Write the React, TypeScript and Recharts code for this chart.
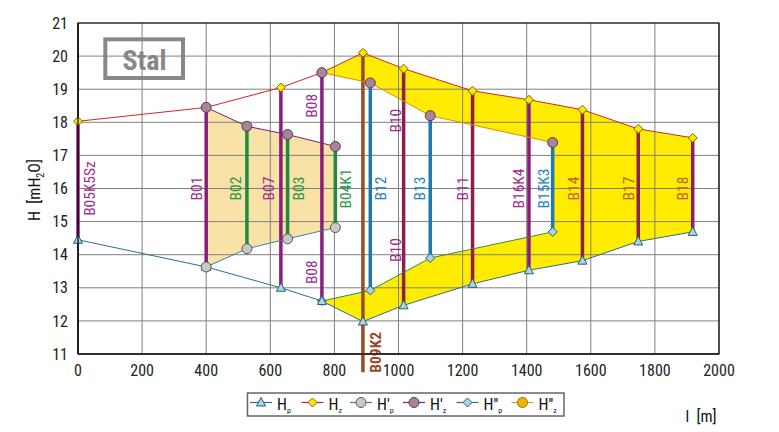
import React from 'react';
import {
  ComposedChart,
  XAxis,
  YAxis,
  CartesianGrid,
  Scatter,
  ReferenceLine,
  ReferenceArea,
  Customized,
} from 'recharts';

// ---------- DATA ----------
// main line nodes
const nodeX = [0, 400, 633, 761, 889, 1016, 1231, 1407, 1574, 1748, 1918];
const Hp = [14.45, 13.63, 13.0, 12.6, 11.98, 12.47, 13.12, 13.53, 13.82, 14.4, 14.69];
const Hz = [18.03, 18.45, 19.05, 19.5, 20.1, 19.62, 18.95, 18.68, 18.38, 17.8, 17.53];
// branch 1 (H'p, H'z)
const branch1X = [400, 527, 654, 803];
const Hp1 = [13.63, 14.18, 14.48, 14.82];
const Hz1 = [18.45, 17.88, 17.63, 17.27];
// branch 2 (H''p, H''z)
const branch2X = [761, 912, 1099, 1481];
const Hp2 = [12.6, 12.92, 13.9, 14.69];
const Hz2 = [19.5, 19.19, 18.2, 17.39];
// pipes (vertical bars)
const pipeNames = ['B05K5Sz', 'B01', 'B02', 'B07', 'B03', 'B08', 'B04K1', 'B09K2', 'B12', 'B10', 'B13', 'B11', 'B16K4', 'B15K3', 'B14', 'B17', 'B18'];
const pipeX = [0, 400, 527, 633, 654, 761, 803, 889, 912, 1016, 1099, 1231, 1407, 1481, 1574, 1748, 1918];
const pipeLow = [14.45, 13.63, 14.18, 13.0, 14.48, 12.6, 14.82, 10.45, 12.92, 12.47, 13.9, 13.12, 13.53, 14.69, 13.82, 14.4, 14.69];
const pipeHigh = [18.03, 18.45, 17.88, 19.05, 17.63, 19.5, 17.27, 20.1, 19.19, 19.62, 18.2, 18.95, 18.68, 17.39, 18.38, 17.8, 17.53];
const labelAt = [16.0, 16.0, 16.0, 16.0, 16.0, 18.5, 16.0, 11.05, 16.0, 18.05, 16.0, 16.0, 16.0, 16.0, 16.0, 16.0, 16.0];
const extraLabelNames = ['B08', 'B10'];
const extraLabelX = [761, 1016];
const extraLabelAt = [13.47, 14.14];
// axes
const xTicks = [0, 200, 400, 600, 800, 1000, 1200, 1400, 1600, 1800, 2000];
const yTicks = [11, 12, 13, 14, 15, 16, 17, 18, 19, 20, 21];
// legend
const legendMain = ['H', 'H', "H'", "H'", "H''", "H''"];
const legendSub = ['p', 'z', 'p', 'z', 'p', 'z'];

// ---------- STYLES ----------
const FONT = '"Liberation Sans Narrow", "Roboto Condensed", "DejaVu Sans Condensed", "Liberation Sans", Arial, sans-serif';
const PURPLE = '#8a1f7a';
const MAROON = '#8b1f4e';
const GREEN = '#1e8c3c';
const BLUE = '#1f78ae';
const BROWN = '#9b4a26';
const pipeStyle: Record<string, { line: string; text: string; dx: number; bold?: boolean }> = {
  B05K5Sz: { line: PURPLE, text: '#a0288f', dx: 12 },
  B01: { line: PURPLE, text: '#a0288f', dx: -9 },
  B02: { line: GREEN, text: '#23963f', dx: -10.5 },
  B07: { line: PURPLE, text: '#a0288f', dx: -11.5 },
  B03: { line: GREEN, text: '#23963f', dx: 11.5 },
  B08: { line: PURPLE, text: '#a0288f', dx: -9.7 },
  B04K1: { line: GREEN, text: '#23963f', dx: 10.5 },
  B09K2: { line: BROWN, text: BROWN, dx: 13, bold: true },
  B12: { line: BLUE, text: '#2080c0', dx: 11 },
  B10: { line: MAROON, text: '#a0288f', dx: -8 },
  B13: { line: BLUE, text: '#2080c0', dx: -10.5 },
  B11: { line: MAROON, text: '#a0288f', dx: -10 },
  B16K4: { line: PURPLE, text: '#a0288f', dx: -10 },
  B15K3: { line: BLUE, text: '#2080c0', dx: -9 },
  B14: { line: MAROON, text: '#c0601c', dx: -8.5 },
  B17: { line: MAROON, text: '#c0601c', dx: -9.5 },
  B18: { line: '#8b1f6a', text: '#c0601c', dx: -10 },
};
const legendLineX = [250, 301.5, 350, 403, 456.5, 511.5];
const legendColors = ['#2c6e8a', '#c02040', '#2c8aa0', '#802070', '#2e7d4a', '#e09a20'];

// ---------- derived series ----------
const pts = (xs: number[], ys: number[]) => xs.map((x, i) => ({ x, y: ys[i] }));
const hpData = pts(nodeX, Hp);
const hzData = pts(nodeX, Hz);
const hp1Data = pts(branch1X, Hp1);
const hz1Data = pts(branch1X, Hz1);
const hp2Data = pts(branch2X, Hp2);
const hz2Data = pts(branch2X, Hz2);
const tanPoly = [...hz1Data, ...hp1Data.slice().reverse()];
const yellowPoly = [
  ...hzData.slice(3),
  ...hpData.slice(3).reverse(),
  ...hp2Data.slice(1),
  ...hz2Data.slice().reverse(),
];
const labelData = [
  ...pipeNames.map((name, i) => ({ x: pipeX[i], y: labelAt[i], name })),
  ...extraLabelNames.map((name, i) => ({ x: extraLabelX[i], y: extraLabelAt[i], name })),
];

// ---------- markers ----------
const Triangle = (p: any) => (
  <polygon points={`${p.cx},${p.cy - 5} ${p.cx - 4.5},${p.cy + 3.5} ${p.cx + 4.5},${p.cy + 3.5}`} fill="#a9d6e5" stroke="#2a5f78" strokeWidth={1} />
);
const Diamond = (fill: string, stroke: string) => (p: any) => (
  <polygon points={`${p.cx},${p.cy - 4.5} ${p.cx + 4.5},${p.cy} ${p.cx},${p.cy + 4.5} ${p.cx - 4.5},${p.cy}`} fill={fill} stroke={stroke} strokeWidth={1} />
);
const Circle = (fill: string, stroke: string) => (p: any) => (
  <circle cx={p.cx} cy={p.cy} r={5} fill={fill} stroke={stroke} strokeWidth={1} />
);
const Nothing = () => <g />;
const PipeLabel = (p: any) => {
  const st = pipeStyle[p.payload.name];
  return (
    <text
      transform={`translate(${p.cx + st.dx},${p.cy}) rotate(-90)`}
      textAnchor="middle"
      dominantBaseline="central"
      fontSize={15.5}
      fontFamily={FONT}
      fontWeight={st.bold ? 'bold' : 'normal'}
      fill={st.text}
    >
      {p.payload.name}
    </text>
  );
};

const legendMarker = (i: number, cx: number, cy: number) => {
  if (i === 0) return Triangle({ cx, cy });
  if (i === 1) return Diamond('#ffe600', '#7a6a00')({ cx, cy });
  if (i === 2) return Circle('#c8c8c8', '#555')({ cx, cy });
  if (i === 3) return Circle('#a88499', '#5a3a50')({ cx, cy });
  if (i === 4) return Diamond('#a9d6e5', '#2a5f78')({ cx, cy });
  return Circle('#f0b400', '#a07000')({ cx, cy });
};

const Decorations = () => (
  <g>
    {/* Stal box */}
    <rect x={105.3} y={39.3} width={77.7} height={38.7} fill="#fff" stroke="#888" strokeWidth={4} />
    <text x={144.5} y={70} textAnchor="middle" fontFamily={FONT} fontWeight="bold" fontSize={28} fill="#888">Stal</text>
    {/* axis titles */}
    <text transform="translate(40,190) rotate(-90)" textAnchor="middle" fontFamily={FONT} fontSize={16} fill="#111" style={{ whiteSpace: 'pre' }}>
      {'H  [mH'}<tspan fontSize={10} dy={4}>2</tspan><tspan dy={-4}>O]</tspan>
    </text>
    <text x={701} y={422} textAnchor="middle" fontFamily={FONT} fontSize={16} fill="#111" style={{ whiteSpace: 'pre' }}>{'l  [m]'}</text>
    {/* legend */}
    <rect x={247.5} y={393} width={316.5} height={23} fill="#fff" stroke="#666" strokeWidth={1.5} />
    {legendMain.map((m, i) => {
      const x0 = legendLineX[i];
      return (
        <g key={i}>
          <line x1={x0} x2={x0 + 22} y1={402.5} y2={402.5} stroke={legendColors[i]} strokeWidth={1.2} />
          {legendMarker(i, x0 + 11, 402.5)}
          <text x={x0 + 27} y={410} fontFamily={FONT} fontSize={16} fill="#111">
            {m}
            <tspan fontSize={8} dy={3}>{legendSub[i]}</tspan>
          </text>
        </g>
      );
    })}
  </g>
);

export default function App() {
  return (
    <div style={{ position: 'absolute', left: 0, top: 0, width: 779, height: 432, background: '#fff' }}>
      <ComposedChart width={779} height={432} margin={{ top: 23, right: 60, bottom: 48, left: 18 }}>
        <XAxis
          type="number"
          dataKey="x"
          domain={[0, 2000]}
          ticks={xTicks}
          tickLine={false}
          tickMargin={5}
          height={30}
          axisLine={{ stroke: '#000', strokeWidth: 1.2 }}
          tick={{ fontSize: 16, fontFamily: FONT, fill: '#222' }}
        />
        <YAxis
          type="number"
          dataKey="y"
          domain={[11, 21]}
          ticks={yTicks}
          tickLine={false}
          tickMargin={4}
          width={60}
          axisLine={{ stroke: '#000', strokeWidth: 1.2 }}
          tick={{ fontSize: 16, fontFamily: FONT, fill: '#222' }}
        />
        {/* fills */}
        <Scatter data={tanPoly} shape={Nothing} line={{ fill: '#f8e2a8', stroke: 'none' }} isAnimationActive={false} zIndex={50} />
        <Scatter data={yellowPoly} shape={Nothing} line={{ fill: '#ffec00', stroke: 'none' }} isAnimationActive={false} zIndex={50} />
        <CartesianGrid stroke="#808080" strokeWidth={1} zIndex={60} />
        <ReferenceArea x1={0} x2={2000} y1={11} y2={21} fill="none" stroke="#000" strokeWidth={1.2} fillOpacity={0} zIndex={70} />
        {/* pipes */}
        {pipeNames.map((name, i) => (
          <ReferenceLine
            key={name}
            segment={[{ x: pipeX[i], y: pipeLow[i] }, { x: pipeX[i], y: pipeHigh[i] }]}
            stroke={pipeStyle[name].line}
            strokeWidth={3.5}
            ifOverflow="visible"
            zIndex={80}
          />
        ))}
        {/* series lines + markers */}
        <Scatter data={hp2Data} shape={Diamond('#a9d6e5', '#2a5f78')} line={{ stroke: '#3a8a3a', strokeWidth: 1 }} isAnimationActive={false} zIndex={90} />
        <Scatter data={hpData} shape={Triangle} line={{ stroke: '#2c6e8a', strokeWidth: 1 }} isAnimationActive={false} zIndex={90} />
        <Scatter data={hzData} shape={Diamond('#ffe600', '#7a6a00')} line={{ stroke: '#d02828', strokeWidth: 1 }} isAnimationActive={false} zIndex={90} />
        <Scatter data={hz2Data} shape={Circle('#a88499', '#5a3a50')} line={{ stroke: '#e08a10', strokeWidth: 1 }} isAnimationActive={false} zIndex={92} />
        <Scatter data={hp1Data} shape={Circle('#c8c8c8', '#555')} line={{ stroke: '#2c8aa0', strokeWidth: 1 }} isAnimationActive={false} zIndex={95} />
        <Scatter data={hz1Data} shape={Circle('#a88499', '#5a3a50')} line={{ stroke: '#802070', strokeWidth: 1 }} isAnimationActive={false} zIndex={95} />
        {/* labels */}
        <Scatter data={labelData} shape={PipeLabel} isAnimationActive={false} zIndex={100} />
        <Customized component={Decorations} />
      </ComposedChart>
    </div>
  );
}
